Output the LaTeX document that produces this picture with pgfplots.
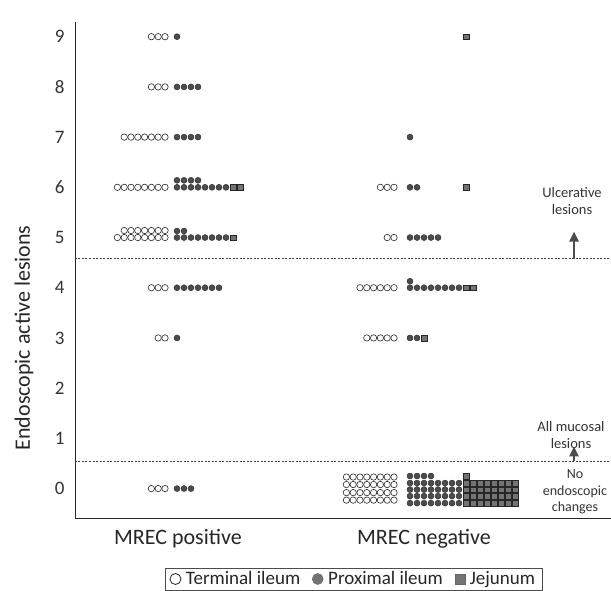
\documentclass[border=0pt]{standalone}
\usepackage{fontspec}
\setmainfont{Carlito}
\usepackage{pgfplots}
\pgfplotsset{compat=1.18}
\usetikzlibrary{arrows.meta}
\begin{document}
\begin{tikzpicture}[x=1pt,y=1pt]
\path[use as bounding box] (0,0) rectangle (611,591);
\begin{axis}[
  at={(75pt,73pt)}, anchor=south west,
  scale only axis, width=536pt, height=496pt,
  xmin=75, xmax=611, ymin=-0.586, ymax=9.293,
  axis x line=bottom, axis y line=left,
  axis line style={-, line width=0.9pt, black!85},
  xtick=\empty, ytick={0,1,...,9},
  major tick length=0pt,
  /pgf/number format/assume math mode=true,
  yticklabel style={font=\fontsize{19}{19}\selectfont, text=black!80, xshift=-7pt},
  clip=false,
  legend columns=3,
  legend style={at={(0.5196,-0.123)}, anchor=center, draw=black!70, line width=0.6pt,
    font=\fontsize{19}{21}\selectfont, text=black!85, inner xsep=5pt, inner ysep=1.5pt,
    /tikz/every even column/.append style={column sep=10pt}},
]
% dashed separators
\addplot[forget plot, black!75, line width=0.8pt, dash pattern=on 2pt off 1.5pt] coordinates {(75,4.58) (611,4.58)};
\addplot[forget plot, black!75, line width=0.8pt, dash pattern=on 2pt off 1.5pt] coordinates {(75,0.55) (611,0.55)};
% Terminal ileum
\addplot[forget plot, only marks, mark=o, mark size=3.2pt, mark options={draw=black!85, line width=0.6pt}] coordinates {
(165,9)(158.2,9)(151.4,9)
(165,8)(158.2,8)(151.4,8)
(165,7)(158.2,7)(151.4,7)(144.6,7)(137.8,7)(131,7)(124.2,7)
(165,6)(158.2,6)(151.4,6)(144.6,6)(137.8,6)(131,6)(124.2,6)(117.4,6)
(165,5.14)(158.2,5.14)(151.4,5.14)(144.6,5.14)(137.8,5.14)(131,5.14)(124.2,5.14)
(165,5)(158.2,5)(151.4,5)(144.6,5)(137.8,5)(131,5)(124.2,5)(117.4,5)
(165,4)(158.2,4)(151.4,4)
(165,3)(158.2,3)
(165,0)(158.2,0)(151.4,0)
(394,6)(387.2,6)(380.4,6)
(394,5)(387.2,5)
(394,4)(387.2,4)(380.4,4)(373.6,4)(366.8,4)(360,4)
(394,3)(387.2,3)(380.4,3)(373.6,3)(366.8,3)
(394,0.23)(387.2,0.23)(380.4,0.23)(373.6,0.23)(366.8,0.23)(360,0.23)(353.2,0.23)(346.4,0.23)
(394,0.08)(387.2,0.08)(380.4,0.08)(373.6,0.08)(366.8,0.08)(360,0.08)(353.2,0.08)(346.4,0.08)
(394,-0.08)(387.2,-0.08)(380.4,-0.08)(373.6,-0.08)(366.8,-0.08)(360,-0.08)(353.2,-0.08)(346.4,-0.08)
(394,-0.23)(387.2,-0.23)(380.4,-0.23)(373.6,-0.23)(366.8,-0.23)(360,-0.23)(353.2,-0.23)(346.4,-0.23)
};
% Proximal ileum
\addplot[forget plot, only marks, mark=*, mark size=3pt, mark options={draw=black!85, fill=black!70, line width=0.4pt}] coordinates {
(177,9)
(177,8)(184,8)(191,8)(198,8)
(177,7)(184,7)(191,7)(198,7)
(177,6.14)(184,6.14)(191,6.14)(198,6.14)
(177,6)(184,6)(191,6)(198,6)(205,6)(212,6)(219,6)(226,6)
(177,5.13)(184,5.13)
(177,5)(184,5)(191,5)(198,5)(205,5)(212,5)(219,5)(226,5)
(177,4)(184,4)(191,4)(198,4)(205,4)(212,4)(219,4)
(177,3)
(177,0)(184,0)(191,0)
(410,7)
(410,6)(417,6)
(410,5)(417,5)(424,5)(431,5)(438,5)
(410,4.13)
(410,4)(417,4)(424,4)(431,4)(438,4)(445,4)(452,4)(459,4)
(410,3)(417,3)
(410,0.25)(417,0.25)(424,0.25)(431,0.25)
(410,0.11)(417,0.11)(424,0.11)(431,0.11)(438,0.11)(445,0.11)(452,0.11)(459,0.11)
(410,-0.02)(417,-0.02)(424,-0.02)(431,-0.02)(438,-0.02)(445,-0.02)(452,-0.02)(459,-0.02)
(410,-0.15)(417,-0.15)(424,-0.15)(431,-0.15)(438,-0.15)(445,-0.15)(452,-0.15)(459,-0.15)
(410,-0.29)(417,-0.29)(424,-0.29)(431,-0.29)(438,-0.29)(445,-0.29)(452,-0.29)(459,-0.29)
};
% Jejunum
\addplot[forget plot, only marks, mark=square*, mark size=2.8pt, mark options={draw=black!85, fill=black!55, line width=0.4pt}] coordinates {
(233,6)(240,6)
(233,5)
(466,9)
(466,6)
(466,4)(473,4)
(424,3)
(466,0.25)
(466,0.11)(473,0.11)(480,0.11)(487,0.11)(494,0.11)(501,0.11)(508,0.11)(515,0.11)
(466,-0.02)(473,-0.02)(480,-0.02)(487,-0.02)(494,-0.02)(501,-0.02)(508,-0.02)(515,-0.02)
(466,-0.15)(473,-0.15)(480,-0.15)(487,-0.15)(494,-0.15)(501,-0.15)(508,-0.15)(515,-0.15)
(466,-0.29)(473,-0.29)(480,-0.29)(487,-0.29)(494,-0.29)(501,-0.29)(508,-0.29)(515,-0.29)
};
% legend
\addlegendimage{only marks, mark=o, mark size=5.5pt, mark options={draw=black!85, line width=0.8pt}}
\addlegendentry{\hspace{3pt}Terminal ileum}
\addlegendimage{only marks, mark=*, mark size=5.5pt, mark options={draw=black!60, fill=black!55, line width=0.5pt}}
\addlegendentry{\hspace{3pt}Proximal ileum}
\addlegendimage{only marks, mark=square*, mark size=5pt, mark options={draw=black!60, fill=black!55, line width=0.5pt}}
\addlegendentry{\hspace{3pt}Jejunum}
% labels
\node[rotate=90, font=\fontsize{22}{22}\selectfont, text=black!85] at (axis cs:24,3.0) {Endoscopic active lesions};
\node[anchor=base, font=\fontsize{22}{22}\selectfont, text=black!85] at (axis cs:178,-1.104) {MREC positive};
\node[anchor=base, font=\fontsize{22}{22}\selectfont, text=black!85] at (axis cs:424,-1.104) {MREC negative};
% annotations
\node[align=center, font=\fontsize{14.5}{16.5}\selectfont, text=black!80] at (axis cs:572,5.73) {Ulcerative\\lesions};
\draw[-{Triangle[length=10pt,width=9pt]}, line width=2.4pt, black!70] (axis cs:574,4.58) -- (axis cs:574,5.12);
\node[align=center, font=\fontsize{14.5}{16.5}\selectfont, text=black!80] at (axis cs:571,1.07) {All mucosal\\lesions};
\draw[-{Triangle[length=10pt,width=9pt]}, line width=2.4pt, black!70] (axis cs:574,0.55) -- (axis cs:574,0.84);
\node[align=center, font=\fontsize{14}{16.5}\selectfont, text=black!80] at (axis cs:575,-0.07) {No\\endoscopic\\changes};
\end{axis}
\end{tikzpicture}
\end{document}
